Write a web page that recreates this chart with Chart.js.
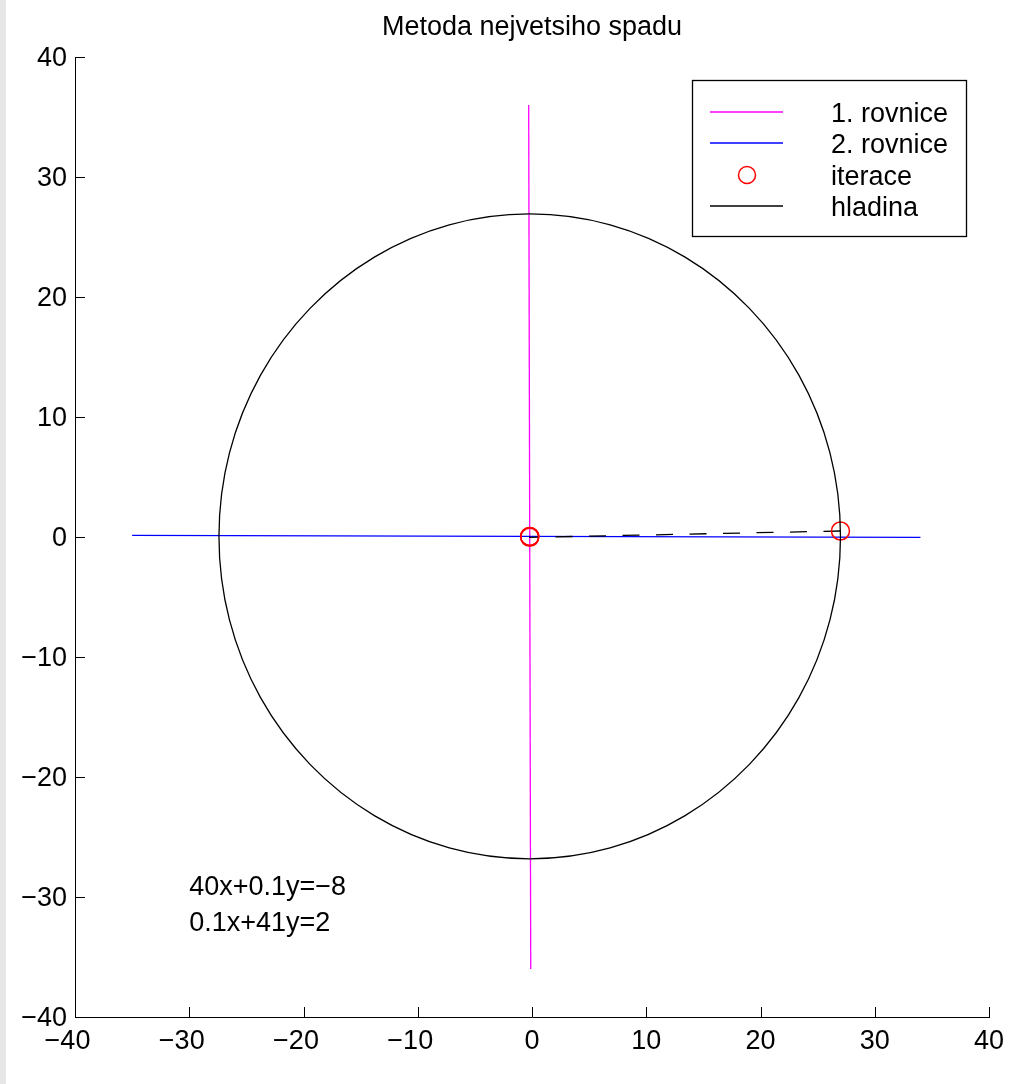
<!DOCTYPE html>
<html><head><meta charset="utf-8">
<script src="https://cdn.jsdelivr.net/npm/chart.js@4/dist/chart.umd.min.js"></script>
<style>html,body{margin:0;padding:0;background:#fff;overflow:hidden}canvas{display:block}</style>
</head><body>
<canvas id="c" width="1024" height="1084" style="width:1024px;height:1084px"></canvas>
<script>
// ---- data ----
const chartTitle = 'Metoda nejvetsiho spadu';
const xTicks = [-40, -30, -20, -10, 0, 10, 20, 30, 40];
const yTicks = [-40, -30, -20, -10, 0, 10, 20, 30, 40];
const seriesNames = ['1. rovnice', '2. rovnice', 'iterace', 'hladina'];

// 1. rovnice: 40x+0.1y=-8
const eq1X = [-0.29, -0.11];
const eq1Y = [36, -36];
// 2. rovnice: 0.1x+41y=2
const eq2X = [-35, 34];
const eq2Y = [0.134, -0.034];
// iterace (steepest descent iterations)
const iterX = [27.0, -0.198, -0.2, -0.2];
const iterY = [0.5, -0.03, 0.049, 0.049];
// hladina (level curve), points read around the curve (first and last repeat neighbours to close it smoothly)
const levelX = [26.08, 27.0, 26.08, 23.36, 19.03, 13.4, 6.84, -0.2, -7.24, -13.8, -19.43, -23.76, -26.48, -27.4, -26.48, -23.76, -19.43, -13.8, -7.24, -0.2, 6.84, 13.4, 19.03, 23.36, 26.08, 27.0, 26.08];
const levelY = [-6.91, 0.05, 7.01, 13.49, 19.05, 23.32, 26.01, 26.92, 26.01, 23.32, 19.05, 13.49, 7.01, 0.05, -6.91, -13.39, -18.95, -23.22, -25.91, -26.82, -25.91, -23.22, -18.95, -13.39, -6.91, 0.05, 7.01];

const equationTexts = ['40x+0.1y=\u22128', '0.1x+41y=2'];
const equationX = [-30, -30];
const equationY = [-29, -32];

// ---- chart ----
const FONT = '"Liberation Sans", Arial, Helvetica, sans-serif';
Chart.defaults.font.family = FONT;
Chart.defaults.color = '#000';

const toPts = (xs, ys) => xs.map((x, i) => ({x: x, y: ys[i]}));
const fmtY = v => String(v).replace('-', '\u2212');
const fmtX = v => v < 0 ? String(v).replace('-', '\u2212') + '\u2007' : String(v);

const colors = ['#ff00ff', '#0000ff', '#ff0000', '#000000'];

const bgPlugin = {
  id: 'bg',
  beforeDraw(chart) {
    const c = chart.ctx;
    c.save();
    c.fillStyle = '#ffffff';
    c.fillRect(0, 0, chart.width, chart.height);
    c.fillStyle = '#e6e6e6';
    c.fillRect(0, 0, 6, chart.height);
    c.restore();
  }
};

const decorPlugin = {
  id: 'decor',
  afterDraw(chart) {
    const c = chart.ctx;
    const a = chart.chartArea;
    const xs = chart.scales.x, ys = chart.scales.y;
    c.save();
    // inward ticks
    c.strokeStyle = '#000';
    c.lineWidth = 1;
    c.beginPath();
    xTicks.forEach(v => {
      const px = Math.round(xs.getPixelForValue(v)) + 0.5;
      c.moveTo(px, a.bottom);
      c.lineTo(px, a.bottom - 10);
    });
    yTicks.forEach(v => {
      const py = Math.round(ys.getPixelForValue(v)) + 0.5;
      c.moveTo(a.left, py);
      c.lineTo(a.left + 10, py);
    });
    c.stroke();

    // title
    c.fillStyle = '#000';
    c.font = '27px ' + FONT;
    c.textAlign = 'center';
    c.textBaseline = 'alphabetic';
    c.fillText(chartTitle, (a.left + a.right) / 2, 35);

    // equations
    c.textAlign = 'left';
    c.textBaseline = 'middle';
    equationTexts.forEach((t, i) => {
      c.fillText(t, xs.getPixelForValue(equationX[i]), ys.getPixelForValue(equationY[i]) + 3);
    });

    // legend
    const bx = 692.5, by = 80.5, bw = 274, bh = 156;
    c.fillStyle = '#fff';
    c.fillRect(bx, by, bw, bh);
    c.strokeStyle = '#000';
    c.lineWidth = 1.3;
    c.strokeRect(bx, by, bw, bh);
    const rows = [112, 143, 175, 206];
    seriesNames.forEach((name, i) => {
      const ry = rows[i];
      if (i === 2) {
        c.strokeStyle = colors[i];
        c.lineWidth = 1.5;
        c.beginPath();
        c.arc(747, ry, 8.5, 0, Math.PI * 2);
        c.stroke();
      } else {
        c.strokeStyle = colors[i];
        c.lineWidth = 1.3;
        c.beginPath();
        c.moveTo(710, ry);
        c.lineTo(783, ry);
        c.stroke();
      }
      c.fillStyle = '#000';
      c.textAlign = 'left';
      c.textBaseline = 'middle';
      c.fillText(name, 831, ry + 2.5);
    });
    c.restore();
  }
};

const levelLast = levelX.length - 2;

new Chart(document.getElementById('c').getContext('2d'), {
  type: 'scatter',
  data: {
    datasets: [
      {label: seriesNames[0], data: toPts(eq1X, eq1Y), showLine: true, borderColor: colors[0], borderWidth: 1.3, pointRadius: 0, order: 4},
      {label: seriesNames[1], data: toPts(eq2X, eq2Y), showLine: true, borderColor: colors[1], borderWidth: 1.3, pointRadius: 0, order: 3},
      {label: seriesNames[2], data: toPts(iterX, iterY), showLine: true, borderColor: '#000', borderDash: [17, 16.5], borderWidth: 1.3,
        pointRadius: 9, pointStyle: 'circle', pointBorderColor: colors[2], pointBackgroundColor: 'rgba(0,0,0,0)', pointBorderWidth: 1.5, order: 2},
      {label: seriesNames[3], data: toPts(levelX, levelY), showLine: true, borderColor: colors[3], borderWidth: 1.3, pointRadius: 0, tension: 0.34, order: 1,
        segment: {borderColor: ctx => (ctx.p0DataIndex === 0 || ctx.p0DataIndex === levelLast) ? 'rgba(0,0,0,0)' : undefined}}
    ]
  },
  options: {
    responsive: false,
    animation: false,
    events: [],
    layout: {padding: {left: 0, right: 35, top: 57, bottom: 0}},
    plugins: {legend: {display: false}, title: {display: false}, tooltip: {enabled: false}},
    scales: {
      x: {
        type: 'linear', min: -40, max: 40,
        grid: {display: false, drawTicks: false},
        border: {display: true, color: '#000', width: 1},
        ticks: {color: '#000', font: {size: 27}, padding: 8, maxRotation: 0, autoSkip: false, callback: fmtX},
        afterBuildTicks: s => { s.ticks = xTicks.map(v => ({value: v})); },
        afterFit: s => { s.height = 67; }
      },
      y: {
        type: 'linear', min: -40, max: 40,
        grid: {display: false, drawTicks: false},
        border: {display: true, color: '#000', width: 1},
        ticks: {color: '#000', font: {size: 27}, padding: 8, labelOffset: 2, autoSkip: false, callback: fmtY},
        afterBuildTicks: s => { s.ticks = yTicks.map(v => ({value: v})); },
        afterFit: s => { s.width = 75; }
      }
    }
  },
  plugins: [bgPlugin, decorPlugin]
});
</script>
</body></html>
